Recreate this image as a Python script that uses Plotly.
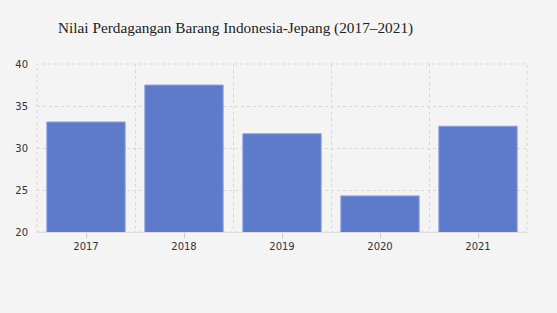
import plotly.graph_objects as go

years = ["2017", "2018", "2019", "2020", "2021"]
values = [33.1, 37.5, 31.7, 24.3, 32.6]
title_text = "Nilai Perdagangan Barang Indonesia-Jepang (2017\u20132021)"

xpos = list(range(len(years)))

fig = go.Figure(go.Bar(
    x=xpos, y=values, width=0.8,
    marker=dict(color="#5e7acb", line=dict(color="#93a6e3", width=1)),
))

fig.update_layout(
    width=557, height=313,
    paper_bgcolor="#f4f4f4", plot_bgcolor="#f4f4f4",
    margin=dict(l=37, r=30, t=64, b=81),
    title=dict(text=title_text, x=58/557, xanchor="left", y=1-28/313, yanchor="middle",
               font=dict(family="Liberation Serif, Times New Roman, serif", size=15.3, color="#222")),
    showlegend=False,
    shapes=[dict(type="rect", xref="x domain", yref="y domain", x0=0, x1=1, y0=0, y1=1,
                 line=dict(color="#d8d8d8", width=1, dash="3px,3px"), layer="below")],
)
fig.update_xaxes(
    range=[-0.5, 4.5], tickvals=xpos, ticktext=years,
    showgrid=False, zeroline=False,
    ticks="outside", ticklen=5, tickcolor="#cccccc",
    tickfont=dict(family="DejaVu Sans, Verdana, sans-serif", size=10, color="#333"),
    showline=True, linecolor="#dddddd", linewidth=1,
    minor=dict(tick0=0.5, dtick=1, showgrid=True, gridcolor="#d8d8d8", griddash="3px,3px", gridwidth=1, ticks=""),
)
fig.update_yaxes(
    range=[20, 40], dtick=5, showgrid=True, gridcolor="#d8d8d8", griddash="3px,3px", gridwidth=1,
    zeroline=False, showline=False,
    tickfont=dict(family="DejaVu Sans, Verdana, sans-serif", size=10, color="#333"),
    ticks="", ticklabelstandoff=8,
)
fig.write_html("out.html")
